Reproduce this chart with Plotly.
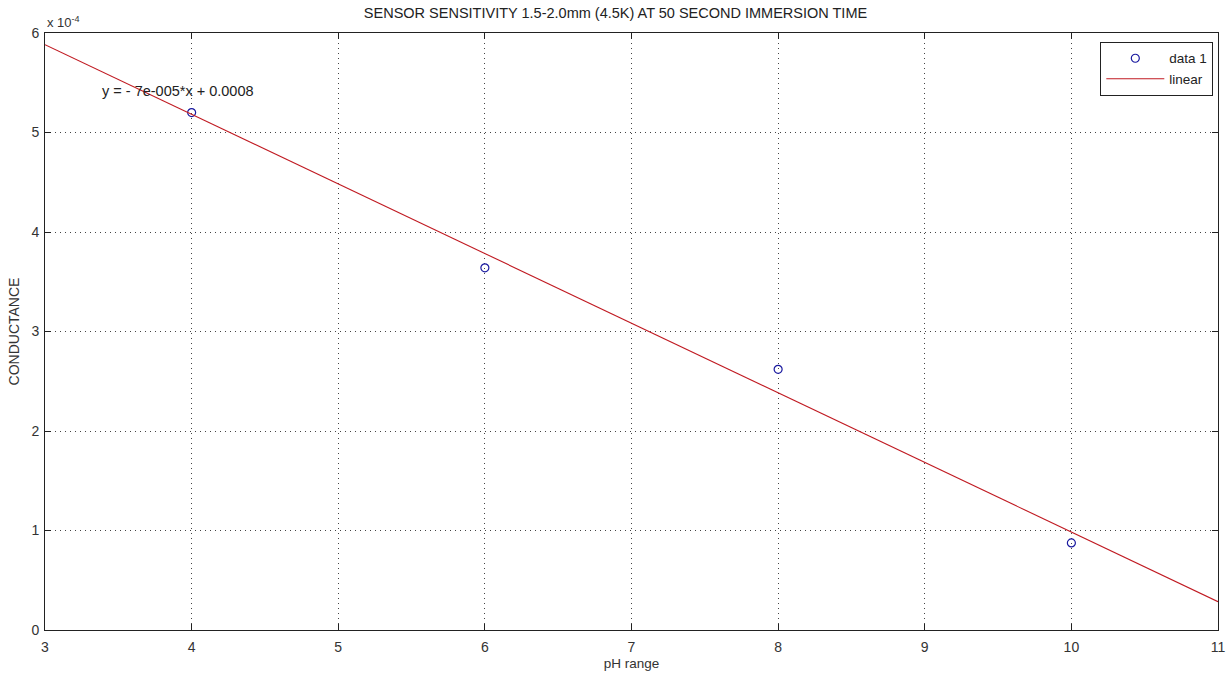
import numpy as np
import plotly.graph_objects as go

# Measured conductance at each pH value
ph_values = [4, 6, 8, 10]
conductance = [5.20e-4, 3.64e-4, 2.62e-4, 0.875e-4]

# Axis ticks
x_ticks = [3, 4, 5, 6, 7, 8, 9, 10, 11]
y_ticks = [0, 1e-4, 2e-4, 3e-4, 4e-4, 5e-4, 6e-4]
y_tick_text = ["0", "1", "2", "3", "4", "5", "6"]

# Least-squares straight line through the measurements
slope, intercept = np.polyfit(ph_values, conductance, 1)
fit_x = np.array([3, 11])
fit_y = slope * fit_x + intercept

def matlab_exp(v):
    m, e = f"{v:.0e}".split("e")
    return f"{m}e{e[0]}{int(e[1:]):03d}"

eq_text = f"y = - {matlab_exp(abs(slope))}*x + {intercept:.4f}"

font = "Liberation Sans, Arial, sans-serif"

fig = go.Figure()
fig.add_trace(go.Scatter(
    x=ph_values, y=conductance, mode="markers", name="data 1",
    marker=dict(symbol="circle-open", size=8, color="#1a1aa0", line=dict(width=1.2)),
))
fig.add_trace(go.Scatter(
    x=fit_x, y=fit_y, mode="lines", name="linear",
    line=dict(color="#c01a22", width=1.1),
))

axis_common = dict(
    showline=True, linecolor="#222", linewidth=1, mirror="allticks",
    ticks="inside", ticklen=6, tickcolor="#222",
    showgrid=True, gridcolor="#444", griddash="1px,4px", gridwidth=1,
    zeroline=False, automargin=False,
    tickfont=dict(family=font, size=14, color="#333"),
)

fig.update_xaxes(range=[3, 11], tickvals=x_ticks, ticklabelstandoff=4, **axis_common,
                 title=dict(text="pH range", font=dict(family=font, size=13.5, color="#333"), standoff=4))
fig.update_yaxes(range=[0, 6e-4], tickvals=y_ticks, ticktext=y_tick_text, ticklabelstandoff=2,
                 **axis_common,
                 title=dict(text="CONDUCTANCE", font=dict(family=font, size=14, color="#333"), standoff=8))

fig.add_annotation(x=3.375, y=5.42e-4, text=eq_text, showarrow=False, xanchor="left",
                   font=dict(family=font, size=14.5, color="#222"))
fig.add_annotation(x=0, y=1, xref="paper", yref="paper", text="x 10<sup>-4</sup>",
                   showarrow=False, xanchor="left", yanchor="bottom", yshift=1,
                   font=dict(family=font, size=13, color="#333"))

fig.update_layout(
    width=1231, height=673,
    margin=dict(l=45, r=13, t=33, b=43),
    paper_bgcolor="white", plot_bgcolor="white",
    title=dict(text="SENSOR SENSITIVITY 1.5-2.0mm (4.5K) AT 50 SECOND IMMERSION TIME",
               x=0.5, xanchor="center", y=0.988, yanchor="top",
               font=dict(family=font, size=14.5, color="#222")),
    legend=dict(x=0.996, y=0.985, xanchor="right", yanchor="top",
                bordercolor="#222", borderwidth=1, bgcolor="white",
                font=dict(family=font, size=13.5, color="#222"), itemwidth=58),
    showlegend=True,
)

fig.write_html("out.html")
